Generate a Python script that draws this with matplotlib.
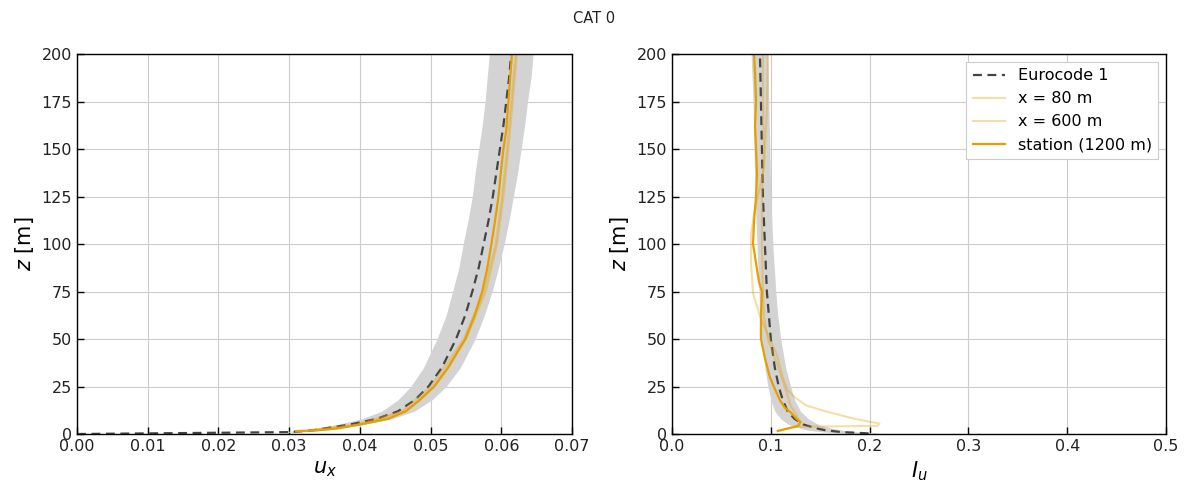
import matplotlib
matplotlib.use("Agg")
import matplotlib.pyplot as plt

# ---------------------------------------------------------------
# data
# ---------------------------------------------------------------
# Eurocode 1 mean wind profile (normalised) and +-band
ec_z = [0, 1, 2, 3, 5, 8, 12, 18, 25, 35, 50, 62.5, 75, 87.5, 100, 112.5,
        125, 137.5, 150, 162.5, 175, 187.5, 200]
ec_ux = [0, 0.0300, 0.0335, 0.0352, 0.0386, 0.0424, 0.0454, 0.0478, 0.0497,
         0.0516, 0.0536, 0.0549, 0.0559, 0.0568, 0.0575, 0.0582, 0.0588,
         0.0593, 0.0598, 0.0603, 0.0607, 0.0611, 0.0614]
ec_ux_lo = [0, 0.0285, 0.0318, 0.0334, 0.0367, 0.0403, 0.0431, 0.0454, 0.0472,
            0.0490, 0.0509, 0.0522, 0.0531, 0.0540, 0.0546, 0.0553, 0.0559,
            0.0563, 0.0568, 0.0573, 0.0577, 0.0580, 0.0583]
ec_ux_hi = [0, 0.0315, 0.0352, 0.0370, 0.0405, 0.0445, 0.0477, 0.0502, 0.0522,
            0.0542, 0.0563, 0.0576, 0.0587, 0.0596, 0.0604, 0.0611, 0.0617,
            0.0623, 0.0628, 0.0633, 0.0637, 0.0642, 0.0645]

# Eurocode 1 turbulence intensity and band
ec_iz = [0.3, 0.5, 1, 2, 3, 5, 8, 12, 18, 25, 35, 50, 62.5, 75, 87.5, 100,
         112.5, 125, 137.5, 150, 162.5, 175, 187.5, 200]
ec_iu = [0.199, 0.193, 0.172, 0.155, 0.146, 0.133, 0.124, 0.117, 0.112, 0.108,
         0.104, 0.100, 0.098, 0.096, 0.095, 0.094, 0.093, 0.092, 0.0915, 0.091,
         0.0905, 0.090, 0.0895, 0.089]
ec_iu_lo = [0.180, 0.172, 0.155, 0.138, 0.130, 0.118, 0.110, 0.104, 0.100,
            0.097, 0.094, 0.090, 0.089, 0.088, 0.087, 0.086, 0.085, 0.084,
            0.0835, 0.083, 0.0825, 0.082, 0.081, 0.080]
ec_iu_hi = [0.212, 0.208, 0.190, 0.172, 0.162, 0.148, 0.138, 0.130, 0.124,
            0.120, 0.115, 0.110, 0.107, 0.105, 0.1035, 0.102, 0.101, 0.100,
            0.0995, 0.099, 0.0985, 0.098, 0.0975, 0.097]

# simulated velocity profiles
st_z = [1.5, 2, 3, 5, 8, 12, 18, 25, 35, 50, 62, 75, 87, 100, 112, 125, 140,
        150, 160, 175, 190, 200]
st_ux = [0.031, 0.034, 0.037, 0.040, 0.044, 0.0465, 0.0485, 0.0505, 0.0525,
         0.0549, 0.0562, 0.0573, 0.0580, 0.0586, 0.0591, 0.0596, 0.0600,
         0.0603, 0.0607, 0.0610, 0.0613, 0.0615]
x80_z = [2, 5, 12, 25, 50, 75, 100, 125, 150, 175, 200]
x80_ux = [0.033, 0.0395, 0.0460, 0.0500, 0.0547, 0.0575, 0.0592, 0.0601,
          0.0608, 0.0614, 0.0620]
x600_z = [2, 5, 12, 25, 50, 75, 100, 125, 150, 175, 200]
x600_ux = [0.034, 0.0400, 0.0465, 0.0505, 0.0550, 0.0578, 0.0594, 0.0603,
           0.0610, 0.0616, 0.0622]

# simulated turbulence intensity profiles
st_iz = [1.6, 3, 4.2, 6.3, 8, 11, 14, 18, 25, 30, 40, 50, 62, 75, 80, 90, 100,
         112, 125, 137, 150, 162, 175, 190, 200]
st_iu = [0.107, 0.118, 0.128, 0.130, 0.126, 0.121, 0.114, 0.109, 0.103, 0.099,
         0.094, 0.090, 0.090, 0.091, 0.088, 0.085, 0.082, 0.083, 0.085, 0.086,
         0.085, 0.084, 0.085, 0.084, 0.083]
x80_iz = [3.8, 4.3, 5.5, 6.5, 8, 10, 12, 15, 19, 23, 30, 42, 50, 62, 74, 90,
          105, 116, 125, 140, 150, 170, 200]
x80_iu = [0.130, 0.208, 0.210, 0.200, 0.185, 0.170, 0.155, 0.136, 0.125, 0.117,
          0.112, 0.106, 0.099, 0.089, 0.082, 0.080, 0.080, 0.083, 0.087, 0.093,
          0.094, 0.096, 0.097]
x600_iz = [2, 4, 6, 10, 15, 25, 37, 50, 62, 75, 100, 125, 150, 175, 200]
x600_iu = [0.110, 0.125, 0.130, 0.126, 0.120, 0.114, 0.106, 0.097, 0.093,
           0.092, 0.091, 0.091, 0.093, 0.092, 0.092]

ORANGE = "#E69F00"
EC_COLOR = "#444444"


def style_axes(ax):
    ax.grid(True, color="#cccccc", linewidth=0.8)
    ax.set_axisbelow(True)
    ax.tick_params(direction="in", labelsize=11.5, length=5, width=1,
                   colors="black", labelcolor="#222222")
    for sp in ax.spines.values():
        sp.set_linewidth(1.0)
    ax.set_ylim(0, 200)
    ax.set_yticks(range(0, 201, 25))
    ax.set_ylabel("$z$ [m]", fontsize=15)


def main():
    fig = plt.figure(figsize=(11.89, 4.95), dpi=100)
    ax1 = fig.add_axes([0.0648, 0.1232, 0.4163, 0.7677])
    ax2 = fig.add_axes([0.5652, 0.1232, 0.4155, 0.7677])

    # -----------------------------------------------------------------
    # left: mean velocity
    # -----------------------------------------------------------------
    ax1.fill_betweenx(ec_z, ec_ux_lo, ec_ux_hi, color="#d3d3d3", lw=0)
    ax1.plot(ec_ux, ec_z, ls="--", color=EC_COLOR, lw=1.6, dashes=(4, 2.5))
    ax1.plot(x80_ux, x80_z, color=ORANGE, alpha=0.35, lw=1.5)
    ax1.plot(x600_ux, x600_z, color=ORANGE, alpha=0.35, lw=1.5)
    ax1.plot(st_ux, st_z, color=ORANGE, lw=1.6)
    style_axes(ax1)
    ax1.set_xlim(0, 0.07)
    ax1.set_xticks([0.0, 0.01, 0.02, 0.03, 0.04, 0.05, 0.06, 0.07])
    ax1.set_xticklabels(["0.00", "0.01", "0.02", "0.03", "0.04", "0.05",
                         "0.06", "0.07"])
    ax1.set_xlabel("$u_x$", fontsize=15)

    # -----------------------------------------------------------------
    # right: turbulence intensity
    # -----------------------------------------------------------------
    ax2.fill_betweenx(ec_iz, ec_iu_lo, ec_iu_hi, color="#d3d3d3", lw=0)
    ax2.plot(ec_iu, ec_iz, ls="--", color=EC_COLOR, lw=1.6, dashes=(4, 2.5),
             label="Eurocode 1")
    ax2.plot(x80_iu, x80_iz, color=ORANGE, alpha=0.35, lw=1.5, label="x = 80 m")
    ax2.plot(x600_iu, x600_iz, color=ORANGE, alpha=0.35, lw=1.5,
             label="x = 600 m")
    ax2.plot(st_iu, st_iz, color=ORANGE, lw=1.6, label="station (1200 m)")
    style_axes(ax2)
    ax2.set_xlim(0, 0.5)
    ax2.set_xticks([0.0, 0.1, 0.2, 0.3, 0.4, 0.5])
    ax2.set_xlabel("$I_u$", fontsize=15)
    leg = ax2.legend(loc="upper right", fontsize=11.5, fancybox=False,
                     edgecolor="#cccccc", framealpha=1.0)
    leg.get_frame().set_linewidth(0.8)

    fig.suptitle("CAT 0", fontsize=10.5, y=0.978, color="#222222")
    fig.savefig("out.png", dpi=100)


if __name__ == "__main__":
    main()
